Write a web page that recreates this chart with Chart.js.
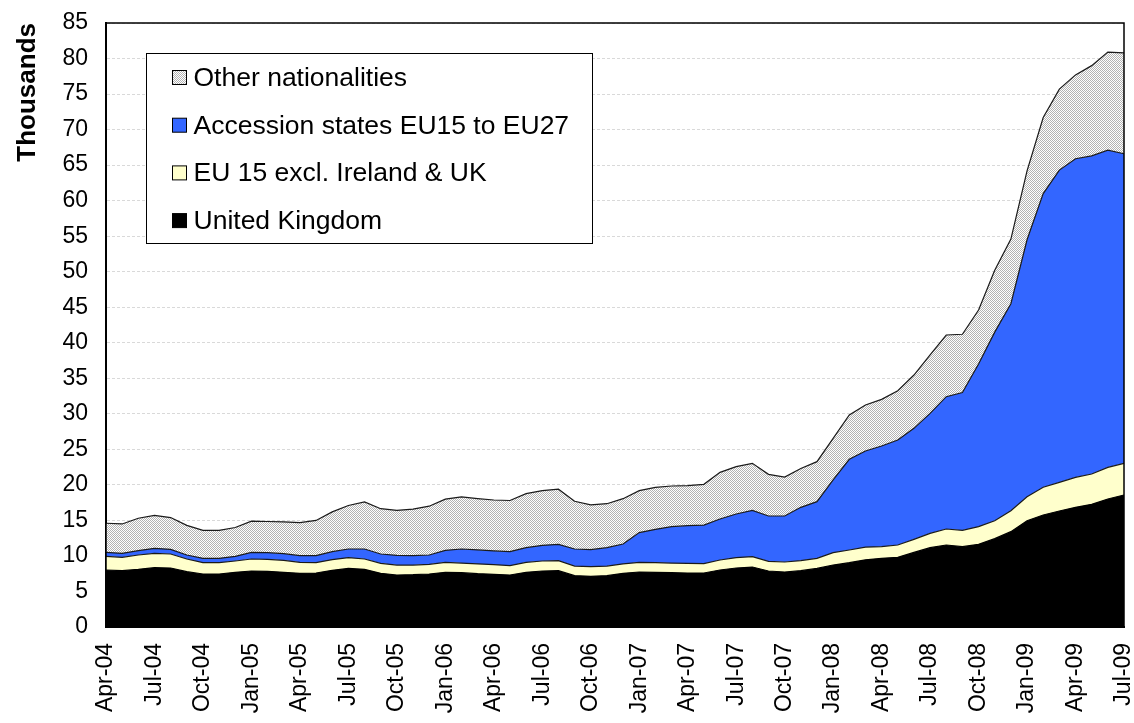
<!DOCTYPE html>
<html>
<head>
<meta charset="utf-8">
<script src="https://cdn.jsdelivr.net/npm/chart.js@4"></script>
<style>
    html, body { margin: 0; padding: 0; background: #fff; }
    #wrap { width: 1134px; height: 723px; }
</style>
</head>
<body>
<div id="wrap"><canvas id="chart"></canvas></div>
<script>
const months = [
    'Apr-04', 'May-04', 'Jun-04', 'Jul-04', 'Aug-04', 'Sep-04', 'Oct-04', 'Nov-04', 'Dec-04',
    'Jan-05', 'Feb-05', 'Mar-05', 'Apr-05', 'May-05', 'Jun-05', 'Jul-05', 'Aug-05', 'Sep-05', 'Oct-05', 'Nov-05', 'Dec-05',
    'Jan-06', 'Feb-06', 'Mar-06', 'Apr-06', 'May-06', 'Jun-06', 'Jul-06', 'Aug-06', 'Sep-06', 'Oct-06', 'Nov-06', 'Dec-06',
    'Jan-07', 'Feb-07', 'Mar-07', 'Apr-07', 'May-07', 'Jun-07', 'Jul-07', 'Aug-07', 'Sep-07', 'Oct-07', 'Nov-07', 'Dec-07',
    'Jan-08', 'Feb-08', 'Mar-08', 'Apr-08', 'May-08', 'Jun-08', 'Jul-08', 'Aug-08', 'Sep-08', 'Oct-08', 'Nov-08', 'Dec-08',
    'Jan-09', 'Feb-09', 'Mar-09', 'Apr-09', 'May-09', 'Jun-09', 'Jul-09'
];

// thousands, stacked bottom to top
const ukValues = [
    8.02, 7.93, 8.11, 8.35, 8.30, 7.79, 7.46, 7.46, 7.69, 7.88, 7.83, 7.69, 7.55, 7.60, 7.97, 8.25,
    8.11, 7.55, 7.32, 7.36, 7.46, 7.69, 7.65, 7.50, 7.41, 7.32, 7.69, 7.88, 7.93, 7.22, 7.13, 7.22,
    7.55, 7.74, 7.69, 7.65, 7.60, 7.60, 8.02, 8.30, 8.44, 7.88, 7.74, 7.93, 8.25, 8.72, 9.05,
    9.45, 9.66, 9.80, 10.50, 11.16, 11.54, 11.30, 11.63, 12.43, 13.42, 14.96, 15.76, 16.32, 16.84, 17.26, 18.01, 18.58
];
const eu15Values = [
    1.92, 1.87, 2.02, 2.02, 1.97, 1.78, 1.59, 1.59, 1.60, 1.69, 1.69, 1.69, 1.55, 1.45, 1.51, 1.51,
    1.46, 1.41, 1.40, 1.36, 1.36, 1.41, 1.35, 1.37, 1.36, 1.31, 1.41, 1.41, 1.40, 1.36, 1.36, 1.36,
    1.32, 1.36, 1.36, 1.35, 1.36, 1.31, 1.41, 1.46, 1.46, 1.36, 1.41, 1.40, 1.41, 1.74, 1.79,
    1.78, 1.64, 1.74, 1.84, 2.02, 2.25, 2.30, 2.49, 2.53, 2.95, 3.38, 3.90, 4.04, 4.22, 4.27, 4.46, 4.45
];
const accessionValues = [
    0.56, 0.57, 0.61, 0.70, 0.66, 0.56, 0.61, 0.61, 0.65, 0.93, 0.94, 0.94, 0.94, 0.99, 1.12, 1.22,
    1.41, 1.31, 1.37, 1.32, 1.31, 1.69, 1.98, 1.97, 1.93, 1.97, 2.06, 2.20, 2.30, 2.40, 2.39, 2.58,
    2.81, 4.18, 4.69, 5.12, 5.30, 5.44, 5.77, 6.14, 6.52, 6.38, 6.47, 7.51, 7.98, 10.23, 12.76,
    13.54, 14.17, 14.78, 15.62, 16.89, 18.62, 19.40, 22.88, 26.54, 29.13, 36.16, 41.34, 43.94, 44.84, 44.77, 44.63, 43.57
];
const otherValues = [
    4.10, 4.13, 4.56, 4.63, 4.47, 4.17, 3.94, 3.94, 4.06, 4.40, 4.39, 4.48, 4.66, 4.96, 5.60, 6.12,
    6.62, 6.38, 6.31, 6.56, 6.87, 7.21, 7.32, 7.22, 7.17, 7.20, 7.60, 7.71, 7.77, 6.72, 6.32, 6.19,
    6.38, 5.91, 5.92, 5.72, 5.63, 5.73, 6.56, 6.66, 6.61, 5.86, 5.48, 5.46, 5.63, 5.86, 6.23,
    6.47, 6.57, 6.94, 7.50, 8.21, 8.68, 8.20, 7.60, 8.70, 9.10, 9.70, 10.70, 11.40, 11.80, 12.70, 13.80, 14.20
];

const FONT = 'Arial, "Liberation Sans", sans-serif';

// grey stipple like the Excel pattern fill
function stipple() {
    const c = document.createElement('canvas');
    c.width = 4; c.height = 4;
    const g = c.getContext('2d');
    g.fillStyle = '#ffffff';
    g.fillRect(0, 0, 4, 4);
    g.fillStyle = '#b3b3b3';
    for (let y = 0; y < 4; y++) {
        for (let x = 0; x < 4; x++) {
            if ((x + y) % 2 === 0) g.fillRect(x, y, 1, 1);
        }
    }
    return g.createPattern(c, 'repeat');
}

// legend drawn inside the plot, plus the frame around it
const boxLegend = {
    id: 'boxLegend',
    afterDatasetsDraw(chart) {
        const { ctx, chartArea } = chart;
        ctx.save();
        ctx.strokeStyle = '#000';
        ctx.lineWidth = 1.5;
        ctx.strokeRect(chartArea.left, chartArea.top, chartArea.right - chartArea.left, chartArea.bottom - chartArea.top);

        const bx = chartArea.left + 40.5, by = chartArea.top + 30.5;
        ctx.fillStyle = '#fff';
        ctx.fillRect(bx, by, 446, 190);
        ctx.lineWidth = 1;
        ctx.strokeRect(bx, by, 446, 190);

        const items = chart.data.datasets.slice().reverse();
        ctx.font = '26.5px ' + FONT;
        ctx.textBaseline = 'middle';
        items.forEach((ds, i) => {
            const y = by + 24 + i * 47.7;
            ctx.fillStyle = ds.legendSwatch;
            ctx.fillRect(bx + 26, y - 7, 14, 14);
            ctx.strokeStyle = '#000';
            ctx.strokeRect(bx + 26, y - 7, 14, 14);
            ctx.fillStyle = '#000';
            ctx.fillText(ds.label, bx + 47, y + 1);
        });
        ctx.restore();
    }
};

const pattern = stipple();

new Chart(document.getElementById('chart'), {
    type: 'line',
    data: {
        labels: months,
        datasets: [
            {
                label: 'United Kingdom',
                data: ukValues,
                backgroundColor: '#000000',
                legendSwatch: '#000000',
                borderColor: '#000000',
                fill: 'origin'
            },
            {
                label: 'EU 15 excl. Ireland & UK',
                data: eu15Values,
                backgroundColor: '#ffffcc',
                legendSwatch: '#ffffcc',
                borderColor: '#1a1a1a',
                fill: '-1'
            },
            {
                label: 'Accession states EU15 to EU27',
                data: accessionValues,
                backgroundColor: '#3366ff',
                legendSwatch: '#3366ff',
                borderColor: '#1a1a1a',
                fill: '-1'
            },
            {
                label: 'Other nationalities',
                data: otherValues,
                backgroundColor: pattern,
                legendSwatch: pattern,
                borderColor: '#1a1a1a',
                fill: '-1'
            }
        ]
    },
    options: {
        responsive: true,
        maintainAspectRatio: false,
        animation: false,
        layout: { padding: { top: 23, right: 10, left: 0, bottom: 0 } },
        elements: {
            line: { borderWidth: 1.2, tension: 0 },
            point: { radius: 0 }
        },
        plugins: {
            legend: { display: false },
            tooltip: { enabled: false }
        },
        scales: {
            x: {
                grid: { display: false, drawTicks: false },
                border: { color: '#000', width: 2 },
                ticks: {
                    autoSkip: false,
                    minRotation: 90,
                    maxRotation: 90,
                    padding: 16,
                    color: '#000',
                    font: { family: FONT, size: 23 },
                    callback: (val, idx) => (idx % 3 === 0 ? months[idx] : '')
                },
                afterFit: (scale) => {
                    scale.height = 96;
                    scale.paddingLeft = 0;
                    scale.paddingRight = 0;
                }
            },
            y: {
                stacked: true,
                min: 0,
                max: 85,
                grid: { color: '#d9d9d9', drawTicks: false },
                border: { color: '#000', width: 2, dash: [3, 2] },
                ticks: {
                    stepSize: 5,
                    padding: 18,
                    color: '#000',
                    font: { family: FONT, size: 23 }
                },
                title: {
                    display: true,
                    text: 'Thousands',
                    align: 'end',
                    color: '#000',
                    padding: { top: 12, bottom: 0 },
                    font: { family: FONT, size: 26, weight: 'bold' }
                },
                afterFit: (scale) => {
                    scale.width = 106;
                    scale.paddingTop = 0;
                    scale.paddingBottom = 0;
                }
            }
        }
    },
    plugins: [boxLegend]
});
</script>
</body>
</html>
